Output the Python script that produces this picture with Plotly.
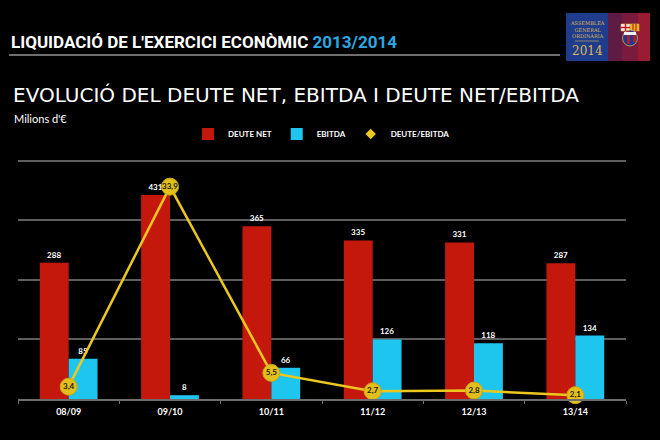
import plotly.graph_objects as go

categories = ["08/09", "09/10", "10/11", "11/12", "12/13", "13/14"]
deute_net = [288, 431, 365, 335, 331, 287]
ebitda = [85, 8, 66, 126, 118, 134]
ratio = [3.4, 33.9, 5.5, 2.7, 2.8, 2.1]
ratio_labels = [f"{v:.1f}".replace(".", ",") for v in ratio]

RED = "#c4180d"
BLUE = "#1ec6ef"
YELLOW = "#ecc81e"
FONT = "Lato"

L, R, T, B = 18, 626, 152, 399


def px(x):
    return (x - L) / (R - L)


def py(y):
    return (B - y) / (B - T)


fig = go.Figure()
fig.add_trace(go.Bar(
    x=categories, y=deute_net, name="DEUTE NET", marker=dict(color=RED, line=dict(width=0)),
    text=deute_net, textposition="outside", cliponaxis=False,
    textfont=dict(color="white", size=8, family=FONT, weight="bold"),
))
fig.add_trace(go.Bar(
    x=categories, y=ebitda, name="EBITDA", marker=dict(color=BLUE, line=dict(width=0)),
    text=ebitda, textposition="outside", cliponaxis=False,
    textfont=dict(color="white", size=8, family=FONT, weight="bold"),
))
fig.add_trace(go.Scatter(
    x=categories, y=ratio, yaxis="y2", mode="lines+markers+text", showlegend=False,
    line=dict(color=YELLOW, width=2.5),
    marker=dict(size=17, color="#e3bf1c", line=dict(color="#c9a816", width=1)),
    text=ratio_labels, texttemplate="%{text}", textposition="middle center",
    textfont=dict(color="#1a1a1a", size=8, family=FONT, weight="bold"),
    cliponaxis=False,
))
fig.add_trace(go.Scatter(
    x=[None], y=[None], yaxis="y2", mode="markers", name="DEUTE/EBITDA",
    marker=dict(symbol="diamond", size=8, color=YELLOW),
))

shapes = [
    dict(type="line", xref="paper", yref="paper", x0=px(9), x1=px(560), y0=py(55), y1=py(55),
         line=dict(color="#6e6e6e", width=2)),
    dict(type="rect", xref="paper", yref="paper", x0=px(566), x1=px(608), y0=py(13), y1=py(61),
         fillcolor="#1f3d8c", line=dict(width=0)),
    dict(type="rect", xref="paper", yref="paper", x0=px(608), x1=px(622), y0=py(13), y1=py(61),
         fillcolor="#5e1c45", line=dict(width=0)),
    dict(type="rect", xref="paper", yref="paper", x0=px(622), x1=px(638), y0=py(13), y1=py(61),
         fillcolor="#7a1a3c", line=dict(width=0)),
    dict(type="rect", xref="paper", yref="paper", x0=px(638), x1=px(650), y0=py(13), y1=py(61),
         fillcolor="#9a1c33", line=dict(width=0)),
    # crest
    dict(type="rect", xref="paper", yref="paper", x0=px(621), x1=px(630), y0=py(24), y1=py(31),
         fillcolor="#f2f2f2", line=dict(color="#d4b04a", width=0.6)),
    dict(type="rect", xref="paper", yref="paper", x0=px(630), x1=px(639), y0=py(24), y1=py(31),
         fillcolor="#e8b81e", line=dict(color="#d4b04a", width=0.6)),
    dict(type="line", xref="paper", yref="paper", x0=px(625.5), x1=px(625.5), y0=py(24), y1=py(31),
         line=dict(color="#d01a1a", width=1.5)),
    dict(type="line", xref="paper", yref="paper", x0=px(621), x1=px(630), y0=py(27.5), y1=py(27.5),
         line=dict(color="#d01a1a", width=1.5)),
    dict(type="line", xref="paper", yref="paper", x0=px(633), x1=px(633), y0=py(24), y1=py(31),
         line=dict(color="#d01a1a", width=1.2)),
    dict(type="line", xref="paper", yref="paper", x0=px(636), x1=px(636), y0=py(24), y1=py(31),
         line=dict(color="#d01a1a", width=1.2)),
    dict(type="circle", xref="paper", yref="paper", x0=px(622.5), x1=px(637.5), y0=py(30), y1=py(46),
         fillcolor="#1e3a8e", line=dict(color="#d4b04a", width=0.8)),
    dict(type="rect", xref="paper", yref="paper", x0=px(627), x1=px(630), y0=py(31), y1=py(44),
         fillcolor="#b01c30", line=dict(width=0)),
    dict(type="rect", xref="paper", yref="paper", x0=px(633), x1=px(636), y0=py(32), y1=py(42),
         fillcolor="#b01c30", line=dict(width=0)),
    dict(type="rect", xref="paper", yref="paper", x0=px(624), x1=px(636), y0=py(32), y1=py(35),
         fillcolor="#f2f2f2", line=dict(width=0)),
    dict(type="line", xref="paper", yref="paper", x0=px(575), x1=px(599), y0=py(41), y1=py(41),
         line=dict(color="#d9b65a", width=0.6)),
]

annotations = [
    dict(text="LIQUIDACIÓ DE L'EXERCICI ECONÒMIC <span style='color:#2aa8e2'>2013/2014</span>",
         xref="paper", yref="paper", x=px(9), y=py(42), xanchor="left", yanchor="middle",
         showarrow=False, font=dict(color="white", size=17, family="Roboto", weight="bold")),
    dict(text="EVOLUCIÓ DEL DEUTE NET, EBITDA I DEUTE NET/EBITDA",
         xref="paper", yref="paper", x=px(11), y=py(95), xanchor="left", yanchor="middle",
         showarrow=False, font=dict(color="white", size=20, family="DejaVu Sans")),
    dict(text="Milions d'€",
         xref="paper", yref="paper", x=px(12), y=py(118), xanchor="left", yanchor="middle",
         showarrow=False, font=dict(color="white", size=11, family=FONT)),
    dict(text="ASSEMBLEA<br>GENERAL<br>ORDINÀRIA",
         xref="paper", yref="paper", x=px(587), y=py(29), xanchor="center", yanchor="middle",
         showarrow=False, font=dict(color="#d9b65a", size=5, family="DejaVu Serif")),
    dict(text="2014",
         xref="paper", yref="paper", x=px(587), y=py(51), xanchor="center", yanchor="middle",
         showarrow=False, font=dict(color="#d9b65a", size=12, family="DejaVu Serif")),
]

fig.update_layout(
    width=660, height=440,
    margin=dict(l=L, r=660 - R, t=T, b=440 - B),
    paper_bgcolor="black", plot_bgcolor="black",
    barmode="group", bargap=0.43, bargroupgap=0,
    separators=", ",
    showlegend=True,
    legend=dict(orientation="h", x=px(188), y=py(134), xanchor="left", yanchor="middle",
                font=dict(color="white", size=8, family=FONT, weight="bold"),
                bgcolor="rgba(0,0,0,0)", itemwidth=30, traceorder="normal"),
    xaxis=dict(showgrid=False, showline=True, linecolor="#6e6e6e", linewidth=1.5,
               ticks="outside", tickson="boundaries", ticklen=3, tickcolor="#6e6e6e",
               ticklabelstandoff=3,
               tickfont=dict(color="white", size=9, family=FONT, weight="bold"), zeroline=False),
    yaxis=dict(range=[0, 522], tickvals=[126, 252, 378, 504], showticklabels=False,
               showgrid=True, gridcolor="#5e5e5e", gridwidth=1.5, zeroline=False, ticks=""),
    yaxis2=dict(range=[1.52, 39.18], overlaying="y", side="right", visible=False, showgrid=False),
    shapes=shapes, annotations=annotations,
)

fig.write_html("out.html", config={"displayModeBar": False},
               post_script="document.body.style.margin='0';document.body.style.overflow='hidden';")
